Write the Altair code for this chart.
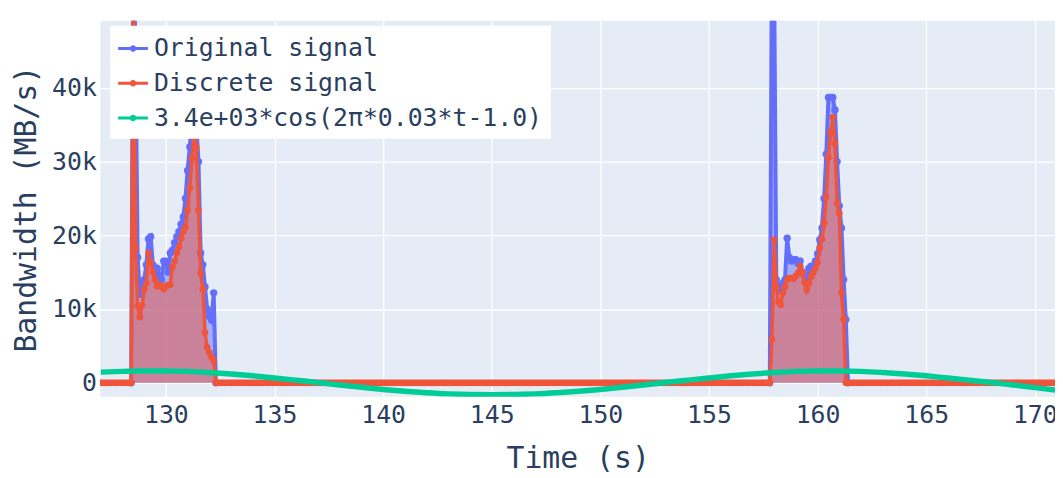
import altair as alt
import numpy as np
import pandas as pd

FONT = "DejaVu Sans Mono"
TEXT = "#2a3f5f"
BLUE, RED, GREEN = "#636efa", "#EF553B", "#00cc96"
NAMES = ["Original signal", "Discrete signal", "3.4e+03*cos(2π*0.03*t-1.0)"]

# ---- Discrete signal (red), sampled every 0.1 s, zero outside the bursts ----
disc_start = 126.9
disc_end = 171.1
disc_b1_start = 128.5
disc_b1 = [56000, 18300, 10400, 8900, 10500, 12700, 13500, 17600, 16300, 15000,
           14000, 13100, 13300, 13000, 12700, 13100, 13300, 13300, 15700, 16500,
           17600, 18400, 19600, 20500, 21100, 23400, 26400, 30400, 34000, 31900,
           23400, 14900, 12700, 6800, 4800, 4100, 3500, 3000]
disc_b2_start = 157.9
disc_b2 = [5900, 19400, 13000, 11000, 10600, 12200, 13000, 14000, 14200, 14200,
           14100, 14500, 14900, 15800, 15000, 13600, 12600, 13500, 14400, 14900,
           15500, 16300, 18300, 19500, 21600, 25200, 30600, 34000, 36000, 32400,
           24300, 23000, 12200, 8600]

# ---- Original signal (blue) ----
orig_b1_start = 128.5
orig_b1 = [60000, 45000, 17000, 12000, 13000, 14000, 16000, 19500, 19800, 16000,
           15000, 15500, 14500, 14000, 16500, 16500, 15000, 17600, 18000, 19000,
           19800, 20500, 21500, 22500, 25000, 28800, 32000, 36000, 37000, 35000,
           30000, 17600, 16000, 13000, 10000, 9000, 8500, 12200]
orig_b2_start = 157.9
orig_b2 = [60000, 55000, 14000, 13000, 12500, 13500, 14000, 19600, 17000, 16500,
           16700, 16700, 16200, 16500, 15000, 14500, 14000, 15500, 15800, 15800,
           16500, 17500, 19400, 21000, 25000, 31000, 38700, 38700, 38700, 37000,
           30000, 24000, 21000, 14000, 8600]
orig_zero_t = [126.9, 128.4, 132.3, 157.8, 161.4, 171.1]

# ---- Fitted cosine (green), read at whole seconds ----
cos_t = list(range(127, 172))
cos_v = [1450, 1550, 1600, 1600, 1550, 1400, 1200, 950, 650, 350,
         50, -300, -600, -900, -1150, -1350, -1500, -1580, -1600, -1580,
         -1500, -1350, -1150, -900, -600, -300, 50, 350, 650, 950,
         1200, 1400, 1550, 1600, 1600, 1550, 1400, 1200, 950, 650,
         350, 50, -300, -650, -1000]

# build tables
dt = np.round(np.arange(round(disc_start * 10), round(disc_end * 10) + 1) / 10, 1)
dv = np.zeros(len(dt))
for s, b in [(disc_b1_start, disc_b1), (disc_b2_start, disc_b2)]:
    i0 = int(round((s - disc_start) * 10))
    dv[i0:i0 + len(b)] = b
disc = pd.DataFrame({"t": dt, "v": dv, "series": NAMES[1]})

ot, ov = list(orig_zero_t), [0.0] * len(orig_zero_t)
for s, b in [(orig_b1_start, orig_b1), (orig_b2_start, orig_b2)]:
    ot += [round(s + 0.1 * i, 2) for i in range(len(b))]
    ov += b
orig = pd.DataFrame({"t": ot, "v": ov, "series": NAMES[0]}).sort_values("t")

cosdf = pd.DataFrame({"t": cos_t, "v": cos_v})

xenc = alt.X("t:Q", scale=alt.Scale(domain=[126.98, 170.93], nice=False, zero=False),
             axis=alt.Axis(values=list(range(130, 171, 5)), format="d", title="Time (s)"))
yenc = alt.Y("v:Q", scale=alt.Scale(domain=[-1900, 49100], nice=False, zero=False),
             axis=alt.Axis(values=[0, 10000, 20000, 30000, 40000],
                           labelExpr="datum.value == 0 ? '0' : (datum.value / 1000) + 'k'",
                           title="Bandwidth (MB/s)"))

SYM = "M-1,-0.1H1V0.1H-1Z M0.22,0A0.22,0.22,0,1,1,-0.22,0A0.22,0.22,0,1,1,0.22,0Z"
legend = alt.Legend(title=None, orient="none", legendX=10, legendY=5,
                    fillColor="white", padding=8, rowPadding=7,
                    symbolType=SYM, symbolSize=900, symbolStrokeWidth=0,
                    symbolOpacity=1, labelFont=FONT, labelFontSize=25,
                    labelColor=TEXT, labelLimit=1000, labelOffset=6)
cenc = alt.Color("series:N", scale=alt.Scale(domain=NAMES, range=[BLUE, RED, GREEN]),
                 legend=legend)

y0 = alt.datum(0)

b_area = alt.Chart(orig).mark_area(color=BLUE, opacity=0.5, clip=True).encode(x=xenc, y=yenc, y2=y0)
b_line = alt.Chart(orig).mark_line(color=BLUE, strokeWidth=4, clip=True).encode(x=xenc, y=yenc)
b_pts = alt.Chart(orig).mark_circle(size=55, opacity=1, clip=True).encode(x=xenc, y=yenc, color=cenc)
r_area = alt.Chart(disc).mark_area(color=RED, opacity=0.5, clip=True).encode(x=xenc, y=yenc, y2=y0)
r_line = alt.Chart(disc).mark_line(color=RED, strokeWidth=3.5, clip=True).encode(x=xenc, y=yenc)
r_pts = alt.Chart(disc).mark_circle(size=45, opacity=1, clip=True).encode(x=xenc, y=yenc, color=cenc)
g_line = alt.Chart(cosdf).mark_line(color=GREEN, strokeWidth=5.5, interpolate="monotone",
                                    clip=True).encode(x=xenc, y=yenc)

chart = alt.layer(b_area, b_line, b_pts, r_area, r_line, r_pts, g_line).properties(
    width=962, height=379,
    padding={"left": 93, "top": 11, "right": 0, "bottom": 80},
    autosize=alt.AutoSizeParams(type="none"),
).configure_view(fill="#E5ECF6", stroke=None).configure_axis(
    grid=True, gridColor="white", gridWidth=1.3, domain=False, ticks=False,
    labelFont=FONT, labelFontSize=25, labelColor=TEXT, labelPadding=4,
    titleFont=FONT, titleFontSize=30, titleColor=TEXT, titleFontWeight="normal",
).configure_axisX(labelPadding=6, titlePadding=16).configure_axisY(titlePadding=10)

chart.save("out.html", embed_options={"renderer": "svg", "actions": False})
